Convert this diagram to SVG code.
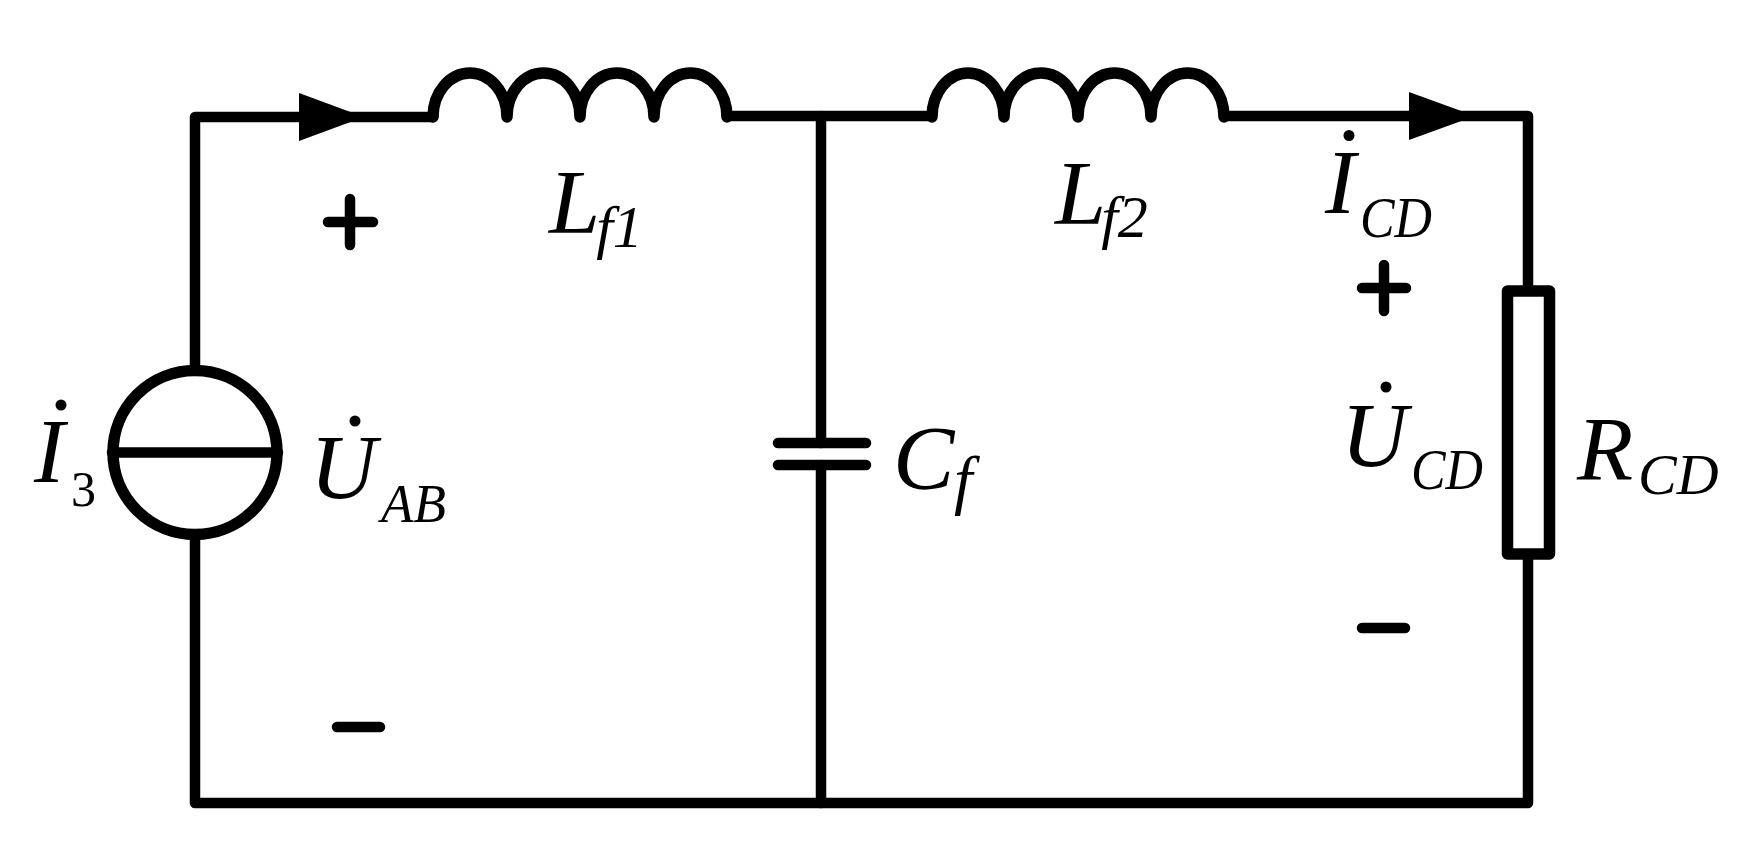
<svg xmlns="http://www.w3.org/2000/svg" width="1764" height="855" viewBox="0 0 1764 855">
<style>
.w{fill:none;stroke:#000;stroke-width:10.500;stroke-linecap:round;stroke-linejoin:round}
.b{stroke-width:11.500}
.t{font-family:"Liberation Serif","Times New Roman",serif;font-style:italic;fill:#000;font-size:92px}
.s{font-size:60px}
.m{font-size:56px}
.u{font-style:normal;font-size:50px}
</style>
<rect width="1764" height="855" fill="#fff"/>
<g id="connectors">
<path class="w" d="M195 365V117H433"/>
<path class="w" d="M195 540V803H1528V559"/>
<path class="w" d="M1528 286V116H1224"/>
<path class="w" d="M727 116H932"/>
<path class="w" d="M821 116V443M821 465V803"/>
<path d="M299 93L364 117L299 141Z" fill="#000"/>
<path d="M1409 92L1475 116L1409 140Z" fill="#000"/>
</g>
<g id="source"><circle class="w b" cx="195" cy="452.500" r="82"/><path class="w" d="M112 452.500H278"/></g>
<g id="Lf1"><path class="w b" d="M433 117A37 44 0 0 1 507 117A36.500 44 0 0 1 580 117A37 44 0 0 1 654 117A36.500 44 0 0 1 727 117"/></g>
<g id="Lf2"><path class="w b" d="M932 117A36 44 0 0 1 1004 117A37 44 0 0 1 1078 117A36.500 44 0 0 1 1151 117A36.500 44 0 0 1 1224 117"/></g>
<g id="Cf"><path class="w" d="M778 443H866M778 465H866"/></g>
<g id="RCD"><rect class="w b" x="1507.500" y="291" width="42" height="263"/></g>
<g id="polarity">
<path class="w" d="M328 222H373M350 199V245"/>
<path class="w" d="M1362 288H1406M1384 265V311"/>
<path class="w" d="M337 727H380"/>
<path class="w" d="M1362 628H1405"/>
</g>
<g id="labels">
<text class="t" x="549" y="233">L<tspan class="s" dx="-4" dy="14">f1</tspan></text>
<text class="t" x="1055" y="224">L<tspan class="s" dx="-5" dy="13">f2</tspan></text>
<text class="t" x="34" y="482">I</text><circle cx="61" cy="405" r="5.500"/><text class="t u" x="71" y="506">3</text>
<text class="t" x="310" y="498">U</text><circle cx="355" cy="421" r="5.500"/><text class="t s" x="381" y="522" textLength="65" lengthAdjust="spacingAndGlyphs" style="font-size:54px">AB</text>
<text class="t" x="1325" y="213">I</text><circle cx="1349" cy="135.500" r="5.500"/><text class="t m" x="1360" y="237" textLength="72" lengthAdjust="spacingAndGlyphs">CD</text>
<text class="t" x="1341" y="466">U</text><circle cx="1386" cy="387" r="5.500"/><text class="t m" x="1411" y="489" textLength="72" lengthAdjust="spacingAndGlyphs">CD</text>
<text class="t" x="1577" y="480">R</text><text class="t" x="1638" y="494" style="font-size:58px">CD</text>
<text class="t" x="893" y="489">C</text><text class="t" x="954" y="502" style="font-size:66px">f</text>
</g>
</svg>
